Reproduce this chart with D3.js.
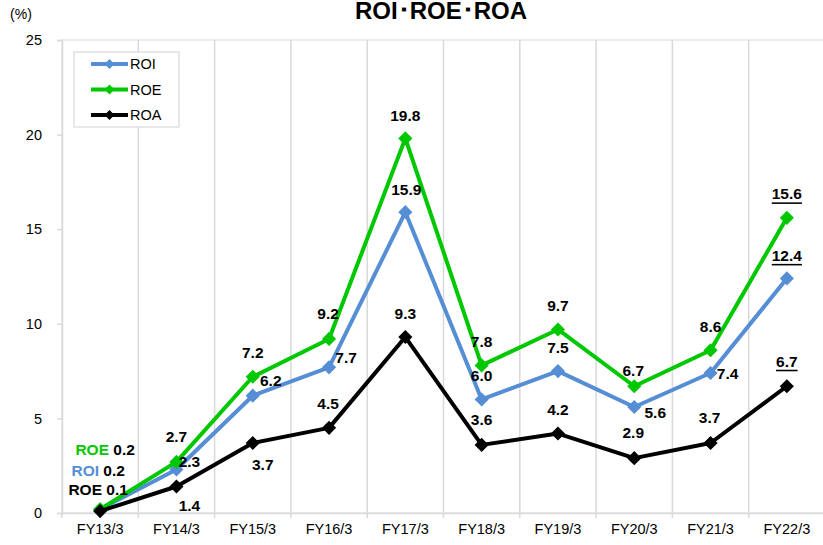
<!DOCTYPE html>
<html>
<head>
<meta charset="utf-8">
<script src="https://cdn.jsdelivr.net/npm/d3@7"></script>
<style>
  body { margin: 0; background: #fff; }
  text { font-family: "Liberation Sans", Arial, sans-serif; }
</style>
</head>
<body>
<svg></svg>
<script>
// data
var years = ["FY13/3", "FY14/3", "FY15/3", "FY16/3", "FY17/3", "FY18/3", "FY19/3", "FY20/3", "FY21/3", "FY22/3"];
var roi = [0.2, 2.3, 6.2, 7.7, 15.9, 6.0, 7.5, 5.6, 7.4, 12.4];
var roe = [0.2, 2.7, 7.2, 9.2, 19.8, 7.8, 9.7, 6.7, 8.6, 15.6];
var roa = [0.1, 1.4, 3.7, 4.5, 9.3, 3.6, 4.2, 2.9, 3.7, 6.7];
var seriesNames = ["ROI", "ROE", "ROA"];
var firstTags = ["ROI", "ROE", "ROE"];   // tags written next to the FY13/3 values
var yTicks = [0, 5, 10, 15, 20, 25];
var underlinedYear = "FY22/3";

var width = 823;
var height = 545;

var svg = d3.select("svg")
            .attr("width", width)
            .attr("height", height);

var colors = { ROI: "#558ED5", ROE: "#00C800", ROA: "#000000" };

// label offsets from the marker centre (placement only)
var labelOffsets = {
    ROI: [[-2, -39], [13, -8], [18, -15], [17, -10], [1, -23], [0, -24], [0, -24], [21, 5], [17, 1], [0, -23]],
    ROE: [[5, -60], [0, -25], [0, -24], [-1, -25], [0, -23], [0, -24], [0, -24], [-1, -16], [0, -24], [0, -24]],
    ROA: [[-2, -22], [13, 19], [10, 22], [-1, -24], [0, -24], [0, -25], [0, -24], [-1, -26], [-1, -25], [0, -25]]
};

var plotLeft = 62, plotTop = 40, plotBottom = 513;
var step = 76.3;

var xScale = d3.scaleBand()
               .domain(years)
               .range([plotLeft, plotLeft + step * years.length])
               .padding(0);

var yScale = d3.scaleLinear()
               .domain([0, 25])
               .range([plotBottom, plotTop]);

var cx = d => xScale(d) + xScale.bandwidth() / 2;

// plot area frame
svg.append("rect")
   .attr("x", plotLeft)
   .attr("y", plotTop)
   .attr("width", step * years.length)
   .attr("height", plotBottom - plotTop)
   .attr("fill", "#fff")
   .attr("stroke", "#d9d9d9")
   .attr("stroke-width", 1);

// vertical gridlines on category boundaries
svg.append("g")
   .selectAll("line")
   .data(years.slice(1))
   .enter().append("line")
     .attr("x1", d => xScale(d))
     .attr("x2", d => xScale(d))
     .attr("y1", plotTop)
     .attr("y2", plotBottom + 5)
     .attr("stroke", "#d9d9d9")
     .attr("stroke-width", 1.5);

// x axis
var xAxis = svg.append("g")
   .attr("transform", "translate(0," + plotBottom + ")")
   .call(d3.axisBottom(xScale).tickSize(0).tickPadding(11));
xAxis.select(".domain").attr("stroke", "#d9d9d9").attr("stroke-width", 1.5);
xAxis.selectAll("text")
     .attr("font-size", "14.5px")
     .attr("fill", "#000")
     .style("font-family", "'Liberation Sans', Arial, sans-serif");
svg.append("line")
   .attr("x1", plotLeft).attr("x2", plotLeft)
   .attr("y1", plotBottom).attr("y2", plotBottom + 5)
   .attr("stroke", "#d9d9d9").attr("stroke-width", 1.5);

// y axis
var yAxis = svg.append("g")
   .attr("transform", "translate(" + plotLeft + ",0)")
   .call(d3.axisLeft(yScale).tickValues(yTicks).tickSize(5).tickPadding(15));
yAxis.select(".domain").attr("stroke", "#d9d9d9").attr("stroke-width", 1.5);
yAxis.selectAll(".tick line").attr("stroke", "#d9d9d9").attr("stroke-width", 1.5);
yAxis.selectAll("text")
     .attr("font-size", "14.5px")
     .attr("fill", "#000")
     .style("font-family", "'Liberation Sans', Arial, sans-serif");

// unit and title
svg.append("text")
   .attr("x", 21)
   .attr("y", 19)
   .attr("text-anchor", "middle")
   .attr("font-size", "14px")
   .text("(%)");

svg.append("text")
   .attr("x", 441)
   .attr("y", 19)
   .attr("text-anchor", "middle")
   .attr("font-size", "24px")
   .attr("font-weight", "bold")
   .text("ROI･ROE･ROA");

var series = [
    { name: "ROI", values: roi },
    { name: "ROE", values: roe },
    { name: "ROA", values: roa }
];

var line = d3.line()
             .x((d, i) => cx(years[i]))
             .y(d => yScale(d));

var diamond = d3.symbol().type(d3.symbolSquare).size(100);

series.forEach(function(s) {
    svg.append("path")
       .datum(s.values)
       .attr("d", line)
       .attr("fill", "none")
       .attr("stroke", colors[s.name])
       .attr("stroke-width", 4)
       .attr("stroke-linejoin", "round");

    svg.append("g")
       .selectAll("path")
       .data(s.values)
       .enter().append("path")
         .attr("d", diamond)
         .attr("transform", (d, i) => "translate(" + cx(years[i]) + "," + yScale(d) + ") rotate(45)")
         .attr("fill", colors[s.name]);
});

// data labels
series.forEach(function(s, k) {
    s.values.forEach(function(v, i) {
        var off = labelOffsets[s.name][i];
        var t = svg.append("text")
                   .attr("x", cx(years[i]) + off[0])
                   .attr("y", yScale(v) + off[1])
                   .attr("text-anchor", "middle")
                   .attr("dominant-baseline", "central")
                   .attr("font-size", "15.5px")
                   .attr("font-weight", "bold");
        if (i === 0) {
            var tagColor = s.name === "ROA" ? "#000" : colors[s.name];
            t.append("tspan").attr("fill", tagColor).text(firstTags[k]);
            t.append("tspan").attr("fill", "#000").text(" " + v.toFixed(1));
        } else {
            t.text(v.toFixed(1));
            if (years[i] === underlinedYear) t.style("text-decoration", "underline");
        }
    });
});

// legend
var legend = svg.append("g");
legend.append("rect")
      .attr("x", 74)
      .attr("y", 52)
      .attr("width", 105)
      .attr("height", 75)
      .attr("fill", "#fff")
      .attr("stroke", "#d9d9d9")
      .attr("stroke-width", 1.2);

var legendItem = legend.selectAll(".item")
      .data(seriesNames)
      .enter().append("g")
        .attr("transform", (d, i) => "translate(0," + (64 + i * 25.5) + ")");

legendItem.append("line")
      .attr("x1", 91).attr("x2", 128)
      .attr("stroke", d => colors[d])
      .attr("stroke-width", 4);

legendItem.append("path")
      .attr("d", d3.symbol().type(d3.symbolSquare).size(50))
      .attr("transform", "translate(109.5,0) rotate(45)")
      .attr("fill", d => colors[d]);

legendItem.append("text")
      .attr("x", 130)
      .attr("dominant-baseline", "central")
      .attr("font-size", "14.5px")
      .text(d => d);
</script>
</body>
</html>
